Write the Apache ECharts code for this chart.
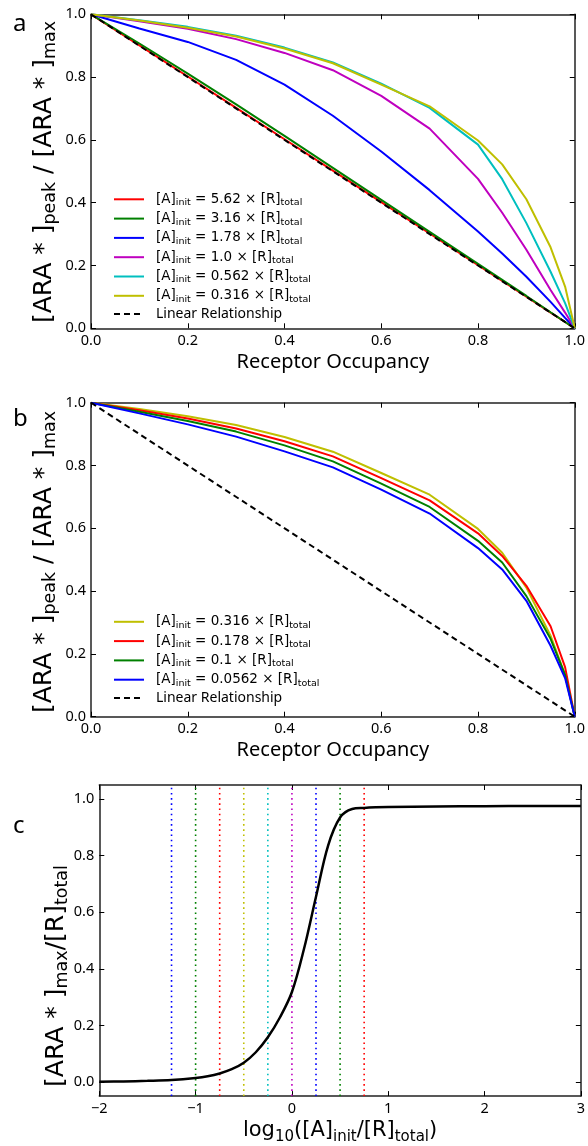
<!DOCTYPE html>
<html>
<head>
<meta charset="utf-8">
<script src="https://cdn.jsdelivr.net/npm/echarts@6/dist/echarts.min.js"></script>
<style>
html, body { margin: 0; padding: 0; background: #fff; }
#chart { width: 588px; height: 1146px; }
</style>
</head>
<body>
<div id="chart"></div>
<script>
// receptor occupancy samples used by panels a and b
const occupancy = [0, 0.1, 0.2, 0.3, 0.4, 0.5, 0.6, 0.7, 0.8, 0.85, 0.9, 0.95, 0.98, 1.0];

// [ARA*]peak / [ARA*]max for each [A]init / [R]total
const r562 = [1, 0.901, 0.802, 0.702, 0.602, 0.502, 0.402, 0.302, 0.201, 0.151, 0.101, 0.050, 0.020, 0];
const r316 = [1, 0.907, 0.811, 0.713, 0.613, 0.511, 0.409, 0.307, 0.205, 0.154, 0.103, 0.051, 0.020, 0];
const r178 = [1, 0.955, 0.912, 0.855, 0.776, 0.677, 0.563, 0.440, 0.308, 0.238, 0.164, 0.084, 0.033, 0];
const r100 = [1, 0.978, 0.954, 0.921, 0.877, 0.822, 0.740, 0.636, 0.476, 0.368, 0.250, 0.122, 0.050, 0];
const r0562 = [1, 0.981, 0.960, 0.932, 0.894, 0.847, 0.779, 0.702, 0.585, 0.475, 0.335, 0.180, 0.080, 0];
const r0316 = [1, 0.980, 0.957, 0.929, 0.891, 0.844, 0.776, 0.707, 0.598, 0.522, 0.411, 0.258, 0.133, 0];
const r0178 = [1, 0.976, 0.950, 0.918, 0.877, 0.829, 0.760, 0.689, 0.584, 0.512, 0.417, 0.288, 0.158, 0];
const r01 = [1, 0.971, 0.942, 0.908, 0.864, 0.813, 0.742, 0.668, 0.560, 0.491, 0.384, 0.248, 0.133, 0];
const r00562 = [1, 0.966, 0.931, 0.892, 0.845, 0.794, 0.723, 0.647, 0.537, 0.469, 0.369, 0.226, 0.123, 0];

// linear relationship
const linearOcc = [0, 1];
const linearVal = [1, 0];

// panel c: [ARA*]max/[R]total against log10([A]init/[R]total)
const logRatio = [-2, -1.75, -1.5, -1.25, -1, -0.875, -0.75, -0.625, -0.5, -0.375, -0.25, -0.125, 0,
  0.125, 0.25, 0.375, 0.5, 0.625, 0.75, 0.875, 1, 1.5, 2, 2.5, 3];
const araMax = [0.001, 0.002, 0.004, 0.007, 0.014, 0.020, 0.030, 0.045, 0.068, 0.105, 0.158, 0.228, 0.318,
  0.470, 0.655, 0.835, 0.935, 0.965, 0.969, 0.971, 0.972, 0.974, 0.975, 0.976, 0.976];
const markerLog = [-1.25, -1, -0.75, -0.5, -0.25, 0, 0.25, 0.5, 0.75];
const markerColor = ['#0000ff', '#008000', '#ff0000', '#bfbf00', '#00bfbf', '#bf00bf', '#0000ff', '#008000', '#ff0000'];
const markerSpan = [-0.05, 1.04];

const ticks01 = [0, 0.2, 0.4, 0.6, 0.8, 1.0];

const C = { red: '#ff0000', green: '#008000', blue: '#0000ff', mag: '#bf00bf', cyan: '#00bfbf', yel: '#bfbf00' };

const pts = (xs, ys) => xs.map((x, i) => [x, ys[i]]);
const ratioText = v => '[A]{s|init} = ' + v + ' × [R]{s|total}';

const legendNames = {
  'a562': ratioText('5.62'), 'a316': ratioText('3.16'), 'a178': ratioText('1.78'),
  'a100': ratioText('1.0'), 'a0562': ratioText('0.562'), 'a0316': ratioText('0.316'),
  'aLin': '{p|Linear Relationship}',
  'b0316': ratioText('0.316'), 'b0178': ratioText('0.178'), 'b01': ratioText('0.1'),
  'b00562': ratioText('0.0562'), 'bLin': '{p|Linear Relationship}'
};

const frame = { show: true, onZero: false, lineStyle: { color: '#222', width: 1.5 } };
const tick = { show: true, inside: true, length: 5, lineStyle: { color: '#000', width: 1 } };
const tickFont = { fontFamily: 'Noto Sans', fontSize: 14.5, color: '#000' };
const fmt1 = v => v.toFixed(1);
const fmtInt = v => (v < 0 ? '\u2212' + Math.abs(v) : String(v));

function xPair(grid, min, max, interval, formatter, name, nameGap, nameStyle) {
  return [
    { type: 'value', gridIndex: grid, position: 'bottom', min, max, interval,
      axisLine: frame, axisTick: tick, splitLine: { show: false },
      axisLabel: Object.assign({ margin: 5, formatter, showMinLabel: true, showMaxLabel: true }, tickFont),
      name, nameLocation: 'middle', nameGap, nameTextStyle: nameStyle },
    { type: 'value', gridIndex: grid, position: 'top', min, max, interval,
      axisLine: frame, axisTick: tick, axisLabel: { show: false }, splitLine: { show: false } }
  ];
}

function yPair(grid, min, max, extra) {
  const lab = Object.assign({ margin: 5, formatter: fmt1, showMinLabel: true, showMaxLabel: true }, tickFont);
  const base = { type: 'value', gridIndex: grid, min, max, splitLine: { show: false }, axisLine: frame };
  return [
    Object.assign({}, base, { position: 'left', axisTick: Object.assign({}, tick, extra.tick),
      axisLabel: Object.assign(lab, extra.label), interval: extra.interval }),
    Object.assign({}, base, { position: 'right', axisTick: Object.assign({}, tick, extra.tick),
      axisLabel: { show: false }, interval: extra.interval })
  ];
}

const occName = { fontFamily: 'Noto Sans', fontSize: 20, color: '#000', lineHeight: 24 };

const xAxis = [
  ...xPair(0, 0, 1, 0.2, fmt1, 'Receptor Occupancy', 22, occName),
  ...xPair(1, 0, 1, 0.2, fmt1, 'Receptor Occupancy', 22, occName),
  ...xPair(2, -2, 3, 1, fmtInt, '{n|log}{s|10}{n|([A]}{s|init}{n|/[R]}{s|total}{n|)}', 20, {
    color: '#000', lineHeight: 28,
    rich: {
      n: { fontFamily: 'DejaVu Sans', fontSize: 21, lineHeight: 28, color: '#000' },
      s: { fontFamily: 'DejaVu Sans', fontSize: 15, lineHeight: 16, padding: [12, 0, 0, 0], color: '#000' }
    }
  })
];

const yAxis = [
  ...yPair(0, 0, 1, { interval: 0.2 }),
  ...yPair(1, 0, 1, { interval: 0.2 }),
  ...yPair(2, -0.05, 1.05, { tick: { customValues: ticks01 }, label: { customValues: ticks01 } })
];

function curve(name, xi, xs, ys, color, extra) {
  return Object.assign({
    name, type: 'line', xAxisIndex: xi, yAxisIndex: xi, data: pts(xs, ys),
    symbol: 'none', showSymbol: false, color,
    lineStyle: { color, width: 2 }
  }, extra || {});
}
const dashed = { lineStyle: { color: '#000', width: 2, type: [6, 4] } };

const series = [
  curve('a562', 0, occupancy, r562, C.red),
  curve('a316', 0, occupancy, r316, C.green),
  curve('a178', 0, occupancy, r178, C.blue),
  curve('a100', 0, occupancy, r100, C.mag),
  curve('a0562', 0, occupancy, r0562, C.cyan),
  curve('a0316', 0, occupancy, r0316, C.yel),
  curve('aLin', 0, linearOcc, linearVal, '#000', dashed),
  curve('b0316', 2, occupancy, r0316, C.yel),
  curve('b0178', 2, occupancy, r0178, C.red),
  curve('b01', 2, occupancy, r01, C.green),
  curve('b00562', 2, occupancy, r00562, C.blue),
  curve('bLin', 2, linearOcc, linearVal, '#000', dashed)
];
// panel c guide lines
markerLog.forEach((x, i) => {
  series.push({
    type: 'line', xAxisIndex: 4, yAxisIndex: 4, symbol: 'none', silent: true,
    data: markerSpan.map(y => [x, y]),
    lineStyle: { color: markerColor[i], width: 1.6, type: [1.6, 3.6] }
  });
});
series.push({
  type: 'line', xAxisIndex: 4, yAxisIndex: 4, symbol: 'none', smooth: 0.35,
  data: pts(logRatio, araMax), lineStyle: { color: '#000', width: 2.5 }
});

const legendText = {
  fontFamily: 'DejaVu Sans', fontSize: 13.5, lineHeight: 15, color: '#000', padding: [0, 0, 0, 7],
  rich: {
    s: { fontFamily: 'DejaVu Sans', fontSize: 9.5, lineHeight: 8, padding: [7, 0, 0, 0], color: '#000' },
    p: { fontFamily: 'Noto Sans', fontSize: 14, lineHeight: 15, color: '#000' }
  }
};
function legend(names, top) {
  return {
    data: names, left: 113, top, orient: 'vertical', padding: 0, itemGap: 2.3,
    itemWidth: 30, itemHeight: 14, selectedMode: false,
    itemStyle: { opacity: 0 },
    formatter: n => legendNames[n], textStyle: legendText
  };
}

const ylabRich = {
  s: { fontFamily: 'DejaVu Sans', fontSize: 17.5, lineHeight: 17, padding: [13, 0, 0, 0], fill: '#000' }
};
function ylab(text, x, y) {
  return {
    type: 'text', x, y, rotation: Math.PI / 2, silent: true,
    style: { text, fontFamily: 'DejaVu Sans', fontSize: 25, lineHeight: 30, fill: '#000',
      align: 'center', verticalAlign: 'middle', rich: ylabRich }
  };
}
function letter(text, y) {
  return { type: 'text', x: 13, y, silent: true,
    style: { text, fontFamily: 'Noto Sans', fontSize: 24, fill: '#000', align: 'left', verticalAlign: 'middle' } };
}

const option = {
  animation: false,
  backgroundColor: '#fff',
  grid: [
    { left: 91, top: 14.3, width: 484, height: 314 },
    { left: 91, top: 402.7, width: 484, height: 314 },
    { left: 99.3, top: 785, width: 482.7, height: 313.5 }
  ],
  xAxis, yAxis, series,
  legend: [
    legend(['a562', 'a316', 'a178', 'a100', 'a0562', 'a0316', 'aLin'], 190.8),
    legend(['b0316', 'b0178', 'b01', 'b00562', 'bLin'], 613.3)
  ],
  graphic: [
    letter('a', 24.5), letter('b', 419), letter('c', 826.5),
    ylab('[ARA * ]{s|peak} / [ARA * ]{s|max}', 44, 172),
    ylab('[ARA * ]{s|peak} / [ARA * ]{s|max}', 44, 562),
    ylab('[ARA * ]{s|max}/[R]{s|total}', 56, 976)
  ]
};

const myChart = echarts.init(document.getElementById('chart'));
myChart.setOption(option);
</script>
</body>
</html>
